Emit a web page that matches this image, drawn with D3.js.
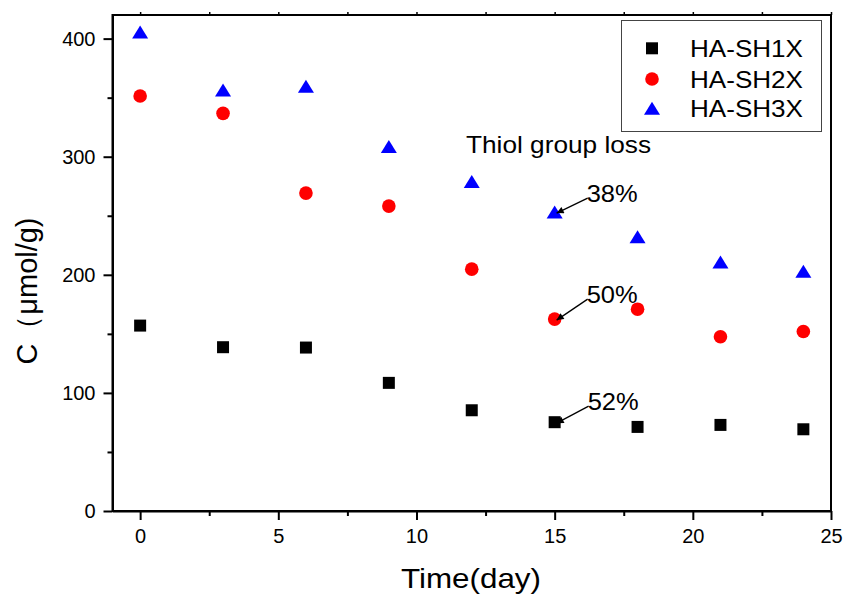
<!DOCTYPE html>
<html>
<head>
<meta charset="utf-8">
<script src="https://cdn.jsdelivr.net/npm/d3@7/dist/d3.min.js"></script>
<style>
  body { margin: 0; background: #fff; }
  text { font-family: Arial, "Liberation Sans", sans-serif; fill: #000; }
</style>
</head>
<body>
<script>
// data
var days = [0, 3, 6, 9, 12, 15, 18, 21, 24];
var sh1 = [157, 138.7, 138.4, 108.5, 85.3, 75.2, 71.2, 72.9, 69.2];
var sh2 = [351.4, 336.7, 269.2, 258.2, 204.8, 162.5, 170.9, 147.5, 152];
var sh3 = [405.5, 356.4, 359.7, 308.6, 279, 253.1, 232.2, 210.8, 203.1];
var seriesNames = ["HA-SH1X", "HA-SH2X", "HA-SH3X"];
var xTicks = [0, 5, 10, 15, 20, 25];
var yTicks = [0, 100, 200, 300, 400];
var losses = [
  { label: "38%", day: 15, value: 253.1, dx: 33, dy: -14 },
  { label: "50%", day: 15, value: 162.5, dx: 33, dy: -20 },
  { label: "52%", day: 15, value: 75.2, dx: 34, dy: -16 }
];

var W = 845, H = 595;
var svg = d3.select("body").append("svg")
  .attr("width", W)
  .attr("height", H);

var x = d3.scaleLinear().domain([-1, 25]).range([112.5, 831]);
var y = d3.scaleLinear().domain([0, 420]).range([511, 15]);

// the reference text is a bit stretched sideways
function wide(sel, len) {
  sel.attr("textLength", len).attr("lengthAdjust", "spacingAndGlyphs");
}

// arrow head
svg.append("defs").append("marker")
  .attr("id", "arr")
  .attr("viewBox", "0 0 10 10")
  .attr("refX", 10).attr("refY", 5)
  .attr("markerWidth", 10).attr("markerHeight", 7)
  .attr("markerUnits", "userSpaceOnUse")
  .attr("orient", "auto")
  .append("path").attr("d", "M0,0L10,5L0,10z").attr("fill", "#000");

// frame
svg.append("rect")
  .attr("x", x(-1)).attr("y", y(420))
  .attr("width", x(25) - x(-1)).attr("height", y(0) - y(420))
  .attr("fill", "none").attr("stroke", "#000").attr("stroke-width", 2);

// x axis
var xAxis = d3.axisBottom(x).tickValues(xTicks).tickSize(9).tickPadding(6).tickSizeOuter(0);
var gx = svg.append("g").attr("transform", "translate(0," + y(0) + ")").call(xAxis);
gx.select(".domain").attr("stroke-width", 2);
gx.selectAll(".tick line").attr("stroke-width", 2);
gx.selectAll(".tick text").attr("font-size", 20).attr("dy", "0.85em");
var gxm = svg.append("g").attr("transform", "translate(0," + y(0) + ")")
  .call(d3.axisBottom(x).tickValues([2.5, 7.5, 12.5, 17.5, 22.5]).tickSize(5).tickFormat("").tickSizeOuter(0));
gxm.select(".domain").remove();
gxm.selectAll(".tick line").attr("stroke-width", 2);

// top ticks
var gt = svg.append("g").attr("transform", "translate(0," + y(420) + ")")
  .call(d3.axisTop(x).tickValues(d3.range(0, 25.1, 2.5)).tickSize(3).tickFormat("").tickSizeOuter(0));
gt.select(".domain").remove();
gt.selectAll(".tick line").attr("stroke-width", 1.5);

// y axis
var yAxis = d3.axisLeft(y).tickValues(yTicks).tickSize(9).tickPadding(8).tickSizeOuter(0);
var gy = svg.append("g").attr("transform", "translate(" + x(-1) + ",0)").call(yAxis);
gy.select(".domain").attr("stroke-width", 2);
gy.selectAll(".tick line").attr("stroke-width", 2);
gy.selectAll(".tick text").attr("font-size", 20);
var gym = svg.append("g").attr("transform", "translate(" + x(-1) + ",0)")
  .call(d3.axisLeft(y).tickValues([50, 150, 250, 350]).tickSize(5).tickFormat("").tickSizeOuter(0));
gym.select(".domain").remove();
gym.selectAll(".tick line").attr("stroke-width", 2);

// axis titles
svg.append("text")
  .attr("x", 471).attr("y", 588)
  .attr("text-anchor", "middle")
  .attr("font-size", 28)
  .call(wide, 140)
  .text("Time(day)");

svg.append("text")
  .attr("transform", "translate(37,291) rotate(-90)")
  .attr("text-anchor", "middle")
  .attr("font-size", 29)
  .call(wide, 147)
  .text("C（μmol/g)");

// markers
var sq = d3.symbol().type(d3.symbolSquare).size(144);
var tri = "M0,-6.5L8,6.5L-8,6.5Z";

svg.append("g").selectAll("path")
  .data(days.map(function(d, i) { return [d, sh1[i]]; }))
  .enter().append("path")
  .attr("transform", function(d) { return "translate(" + x(d[0]) + "," + y(d[1]) + ")"; })
  .attr("d", sq)
  .attr("fill", "#000");

svg.append("g").selectAll("circle")
  .data(days.map(function(d, i) { return [d, sh2[i]]; }))
  .enter().append("circle")
  .attr("cx", function(d) { return x(d[0]); })
  .attr("cy", function(d) { return y(d[1]); })
  .attr("r", 6.8)
  .attr("fill", "#ff0000");

svg.append("g").selectAll("path")
  .data(days.map(function(d, i) { return [d, sh3[i]]; }))
  .enter().append("path")
  .attr("transform", function(d) { return "translate(" + x(d[0]) + "," + y(d[1]) + ")"; })
  .attr("d", tri)
  .attr("fill", "#0000ff");

// annotations
svg.append("text")
  .attr("x", 466).attr("y", 153)
  .attr("font-size", 24)
  .call(wide, 185)
  .text("Thiol group loss");

var ann = svg.append("g").selectAll("g").data(losses).enter().append("g");
ann.append("line")
  .attr("x1", function(d) { return x(d.day) + d.dx; })
  .attr("y1", function(d) { return y(d.value) + d.dy; })
  .attr("x2", function(d) { return x(d.day) + 2; })
  .attr("y2", function(d) { return y(d.value) + 1; })
  .attr("stroke", "#000").attr("stroke-width", 1.3)
  .attr("marker-end", "url(#arr)");
ann.append("text")
  .attr("x", function(d) { return x(d.day) + d.dx - 1; })
  .attr("y", function(d) { return y(d.value) + d.dy + 4; })
  .attr("font-size", 24)
  .call(wide, 51)
  .text(function(d) { return d.label; });

// legend
var lg = svg.append("g");
lg.append("rect")
  .attr("x", 621.5).attr("y", 20.5).attr("width", 200).attr("height", 111)
  .attr("fill", "#fff").attr("stroke", "#444").attr("stroke-width", 1);
var rows = [48.3, 79, 108.3];
lg.append("path").attr("transform", "translate(652," + rows[0] + ")").attr("d", sq).attr("fill", "#000");
lg.append("circle").attr("cx", 652).attr("cy", rows[1]).attr("r", 6.8).attr("fill", "#ff0000");
lg.append("path").attr("transform", "translate(652," + rows[2] + ")").attr("d", tri).attr("fill", "#0000ff");
lg.selectAll("text").data(seriesNames).enter().append("text")
  .attr("x", 690)
  .attr("y", function(d, i) { return rows[i] + 8.6; })
  .attr("font-size", 24)
  .call(wide, 113)
  .text(function(d) { return d; });
</script>
</body>
</html>
